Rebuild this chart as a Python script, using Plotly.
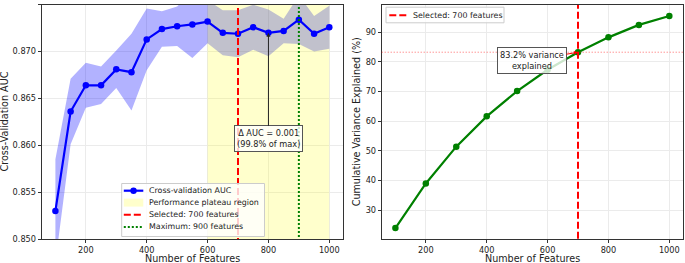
import plotly.graph_objects as go

# ---------------- data ----------------
features = [100, 150, 200, 250, 300, 350, 400, 450, 500, 550,
            600, 650, 700, 750, 800, 850, 900, 950, 1000]
auc_mean = [0.8530, 0.8636, 0.8664, 0.8664, 0.8681, 0.8678, 0.8713, 0.8724, 0.8727, 0.8729,
            0.8732, 0.8720, 0.8719, 0.8726, 0.8720, 0.8722, 0.8734, 0.8719, 0.8726]
auc_std = [0.0055, 0.0035, 0.0024, 0.0020, 0.0020, 0.0041, 0.0033, 0.0019, 0.0021, 0.0036,
           0.0023, 0.0024, 0.0025, 0.0024, 0.0025, 0.0013, 0.0026, 0.0019, 0.0023]

plateau_start = 600
plateau_end = 1000
selected_features = 700
max_features = 900
delta_label_at = 800

var_features = [100, 200, 300, 400, 500, 600, 700, 800, 900, 1000]
var_explained = [24.0, 39.0, 51.4, 61.6, 70.1, 77.3, 83.2, 88.2, 92.4, 95.4]
selected_variance = 83.2

auc_range = [0.850, 0.875]
auc_ticks = [0.850, 0.855, 0.860, 0.865, 0.870, 0.875]
x_range = [55, 1045]
x_ticks = [200, 400, 600, 800, 1000]
var_range = [20.3, 99.2]
var_ticks = [30, 40, 50, 60, 70, 80, 90]

legend_left = ["Cross-validation AUC", "Performance plateau region",
               "Selected: 700 features", "Maximum: 900 features"]
legend_right = ["Selected: 700 features"]

# ---------------- figure ----------------
W, H = 685, 263
FONT = "DejaVu Sans"
TICKF = dict(family=FONT, size=8.2, color="#222")
BLUE, RED, GREEN = "#0000ff", "#ff0000", "#008000"
YELLOW_FILL = "rgba(255,255,0,0.2)"
RED_DASH = "7px,3px"
GREEN_DOT = "2px,2px"

def px(x):
    return x / W

def py(y):
    return (H - y) / H

upper = [m + s for m, s in zip(auc_mean, auc_std)]
lower = [m - s for m, s in zip(auc_mean, auc_std)]

fig = go.Figure()

# std band
fig.add_trace(go.Scatter(x=features, y=lower, mode="lines", line=dict(width=0, color="rgba(0,0,255,0)"),
                         showlegend=False, hoverinfo="skip", xaxis="x", yaxis="y"))
fig.add_trace(go.Scatter(x=features, y=upper, mode="lines", line=dict(width=0, color="rgba(0,0,255,0)"),
                         fill="tonexty", fillcolor="rgba(0,0,255,0.3)",
                         showlegend=False, hoverinfo="skip", xaxis="x", yaxis="y"))
# plateau region
fig.add_trace(go.Scatter(x=[plateau_start, plateau_end, plateau_end, plateau_start, plateau_start],
                         y=[auc_range[0] - 1, auc_range[0] - 1, auc_range[1] + 1, auc_range[1] + 1, auc_range[0] - 1],
                         mode="lines", line=dict(width=0, color=YELLOW_FILL),
                         fill="toself", fillcolor=YELLOW_FILL,
                         name=legend_left[1], showlegend=False, xaxis="x", yaxis="y"))
# mean line
fig.add_trace(go.Scatter(x=features, y=auc_mean, mode="lines+markers",
                         line=dict(color=BLUE, width=2.2), marker=dict(color=BLUE, size=6.5),
                         name=legend_left[0], showlegend=False, xaxis="x", yaxis="y"))
# vertical lines
fig.add_trace(go.Scatter(x=[selected_features, selected_features], y=[auc_range[0] - 1, auc_range[1] + 1],
                         mode="lines", line=dict(color=RED, width=2, dash=RED_DASH),
                         name=legend_left[2], showlegend=False, xaxis="x", yaxis="y"))
fig.add_trace(go.Scatter(x=[max_features, max_features], y=[auc_range[0] - 1, auc_range[1] + 1],
                         mode="lines", line=dict(color=GREEN, width=2, dash=GREEN_DOT),
                         name=legend_left[3], showlegend=False, xaxis="x", yaxis="y"))

# right panel
fig.add_trace(go.Scatter(x=var_features, y=var_explained, mode="lines+markers",
                         line=dict(color=GREEN, width=2.2), marker=dict(color=GREEN, size=6.5),
                         showlegend=False, xaxis="x2", yaxis="y2"))
fig.add_trace(go.Scatter(x=[selected_features, selected_features], y=[var_range[0] - 10, var_range[1] + 10],
                         mode="lines", line=dict(color=RED, width=2, dash=RED_DASH),
                         name=legend_right[0], showlegend=False, xaxis="x2", yaxis="y2"))

fig.add_shape(type="line", xref="x2 domain", yref="y2", x0=0, x1=1,
              y0=selected_variance, y1=selected_variance,
              line=dict(color="rgba(255,0,0,0.6)", width=1, dash="1px,2px"), layer="above")

dom1 = [px(41.7), px(343)]
dom2 = [px(381.7), px(683)]
ydom = [py(239), py(4.7)]

axis_common = dict(showline=True, linecolor="#333", linewidth=1, mirror=True,
                   ticks="outside", ticklen=3, tickwidth=1, tickcolor="#333",
                   showgrid=True, gridcolor="#ebebeb", gridwidth=1, zeroline=False,
                   tickfont=TICKF, automargin=False)

fig.update_layout(
    width=W, height=H,
    margin=dict(l=0, r=0, t=0, b=0),
    paper_bgcolor="white", plot_bgcolor="white",
    font=dict(family=FONT, size=8.2, color="#222"),
    xaxis=dict(domain=dom1, range=x_range, tickvals=x_ticks, anchor="y", **axis_common),
    yaxis=dict(domain=ydom, range=auc_range, tickvals=auc_ticks, tickformat=".3f", anchor="x", **axis_common),
    xaxis2=dict(domain=dom2, range=x_range, tickvals=x_ticks, anchor="y2", **axis_common),
    yaxis2=dict(domain=ydom, range=var_range, tickvals=var_ticks, anchor="x2", **axis_common),
    showlegend=False,
)

# ---------------- hand-drawn legends (matplotlib-like compact layout) ----------------
LEGF = dict(family=FONT, size=7.9, color="#222")

def legend_box(x0, y0, x1, y1):
    fig.add_shape(type="rect", xref="paper", yref="paper", x0=px(x0), x1=px(x1), y0=py(y1), y1=py(y0),
                  fillcolor="rgba(255,255,255,0.8)", line=dict(color="#cccccc", width=1), layer="above")

def legend_text(x, y, t):
    fig.add_annotation(text=t, xref="paper", yref="paper", x=px(x), y=py(y), showarrow=False,
                       xanchor="left", yanchor="middle", font=LEGF)

def legend_line(x0, x1, y, color, dash, width=2):
    fig.add_shape(type="line", xref="paper", yref="paper", x0=px(x0), x1=px(x1), y0=py(y), y1=py(y),
                  line=dict(color=color, width=width, dash=dash), layer="above")

# left legend
lx0, ly0, lx1, ly1 = 121.7, 183.5, 264.5, 236.5
hx0, hx1, tx = 123.8, 143.3, 146.7
rows = [190.7, 202.6, 214.8, 227.0]
legend_box(lx0, ly0, lx1, ly1)
legend_line(hx0, hx1, rows[0], BLUE, "solid", 2.2)
mx = (hx0 + hx1) / 2
fig.add_shape(type="circle", xref="paper", yref="paper", x0=px(mx - 3.2), x1=px(mx + 3.2),
              y0=py(rows[0] + 3.2), y1=py(rows[0] - 3.2), fillcolor=BLUE, line=dict(width=0), layer="above")
fig.add_shape(type="rect", xref="paper", yref="paper", x0=px(hx0), x1=px(hx1),
              y0=py(rows[1] + 4), y1=py(rows[1] - 4), fillcolor=YELLOW_FILL, line=dict(width=0), layer="above")
legend_line(hx0, hx1, rows[2], RED, RED_DASH, 2)
legend_line(hx0, hx1, rows[3], GREEN, GREEN_DOT, 2)
for r, t in zip(rows, legend_left):
    legend_text(tx, r, t)

# right legend
rx0, ry0, rx1, ry1 = 386, 7.2, 504, 22.8
legend_box(rx0, ry0, rx1, ry1)
legend_line(389.3, 407, 15.2, RED, RED_DASH, 2)
legend_text(410.7, 15.2, legend_right[0])

# axis titles
LBL = dict(family=FONT, size=9.6, color="#222")
fig.add_annotation(text="Cross-Validation AUC", xref="paper", yref="paper", x=px(4.5),
                   y=py(122), textangle=-90, showarrow=False, font=LBL,
                   xanchor="center", yanchor="middle")
fig.add_annotation(text="Number of Features", xref="paper", yref="paper", x=(dom1[0] + dom1[1]) / 2,
                   y=py(258), showarrow=False, font=LBL, xanchor="center", yanchor="middle")
fig.add_annotation(text="Cumulative Variance Explained (%)", xref="paper", yref="paper", x=px(357.3),
                   y=py(122), textangle=-90, showarrow=False, font=LBL,
                   xanchor="center", yanchor="middle")
fig.add_annotation(text="Number of Features", xref="paper", yref="paper", x=(dom2[0] + dom2[1]) / 2,
                   y=py(258), showarrow=False, font=LBL, xanchor="center", yanchor="middle")

# callouts
auc_at_label = auc_mean[features.index(delta_label_at)]
fig.add_annotation(text="Δ AUC = 0.001<br>(99.8% of max)", x=delta_label_at, y=auc_at_label,
                   xref="x", yref="y", ax=0, ay=106, showarrow=True, arrowhead=2, arrowsize=0.8,
                   arrowwidth=1, arrowcolor="#222", bgcolor="rgba(255,255,255,0.8)",
                   bordercolor="#555", borderwidth=1, borderpad=2,
                   font=dict(family=FONT, size=8.2, color="#222"))
fig.add_annotation(text="83.2% variance<br>explained", x=selected_features, y=selected_variance,
                   xref="x2", yref="y2", ax=-46, ay=8, showarrow=True, arrowhead=2, arrowsize=0.8,
                   arrowwidth=1, arrowcolor=RED, bgcolor="rgba(255,255,255,0.8)",
                   bordercolor="#555", borderwidth=1, borderpad=2,
                   font=dict(family=FONT, size=8.2, color="#222"))

fig.write_html("out.html", config={"displayModeBar": False},
               post_script="document.body.style.margin='0px';document.body.style.overflow='hidden';")
